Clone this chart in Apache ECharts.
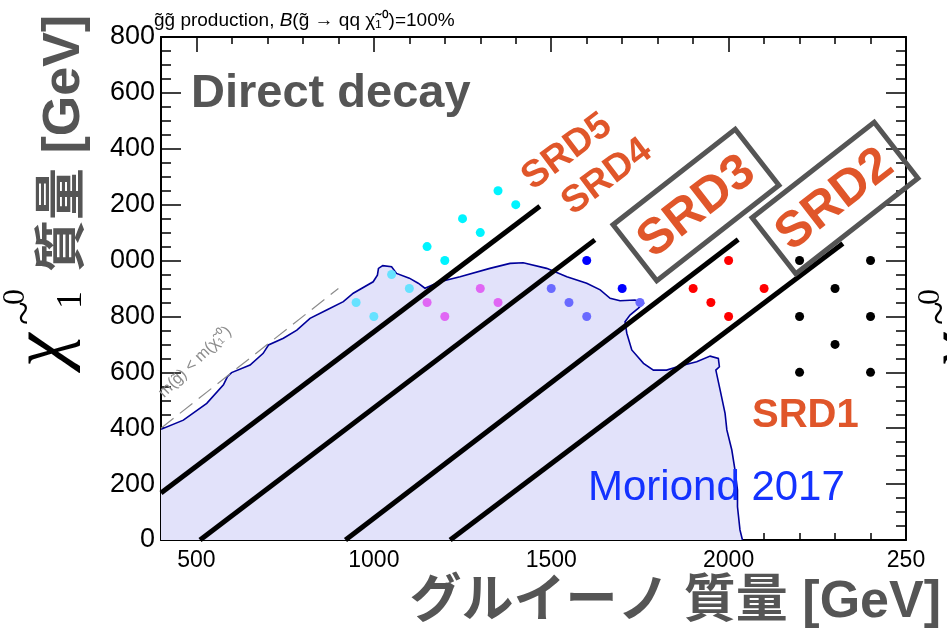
<!DOCTYPE html>
<html><head><meta charset="utf-8">
<script src="https://cdn.jsdelivr.net/npm/echarts@6/dist/echarts.min.js"></script>
<style>html,body{margin:0;padding:0;background:#fff}#c{width:947px;height:636px}</style>
</head><body><div id="c"></div>
<script>
// ---- data ----
const xLabelValues = [500, 1000, 1500, 2000, 2500];
const yTickStep = 200;
// signal points (gluino mass, neutralino mass)
const srd5Points = [[1150,1050],[1200,1000],[1250,1150],[1300,1100],[1350,1250],[1400,1200]];
const srd4Points = [[950,850],[1000,800],[1050,950],[1100,900]];
const magentaPoints = [[1150,850],[1200,800],[1300,900],[1350,850]];
const slatePoints = [[1500,900],[1550,850],[1600,800],[1750,850]];
const bluePoints = [[1600,1000],[1700,900]];
const srd2Points = [[1900,900],[1950,850],[2000,1000],[2000,800],[2100,900]];
const srd1Points = [[2200,1000],[2400,1000],[2300,900],[2200,800],[2400,800],[2300,700],[2200,600],[2400,600]];
// region boundary lines
const boundary1 = [[400,168],[1468,1194]];
const boundary2 = [[510,0],[1623,1074]];
const boundary3 = [[920,0],[2027,1075]];
const boundary4 = [[1215,0],[2322,1061]];
// kinematic limit m(gluino) = m(neutralino)
const kinLimit = [[400,400],[900,900]];
// Moriond 2017 exclusion contour
const contourX = [400,463,529,576,587,599,651,688,703,745,783,820,867,914,942,998,1010,1013,1025,1050,1064,1100,1125,1144,1186,1243,1327,1384,1421,1487,1544,1600,1638,1666,1694,1736,1760,1745,1722,1708,1713,1727,1760,1788,1825,1863,1910,1948,1971,1974,1964,1976,1990,1995,2009,2018,2025,2025,2032,2039];
const contourY = [396,429,489,555,584,599,626,668,698,722,751,793,823,853,883,924,948,972,982,978,954,937,919,901,924,942,972,990,992,972,942,919,895,865,856,859,847,829,805,781,740,680,632,608,608,623,638,658,650,620,608,537,453,394,322,250,179,119,36,0];

const SANS = '"Liberation Sans", Arial, Helvetica, "Noto Sans CJK JP", sans-serif';
const NARROW = '"Liberation Sans Narrow", "Arial Narrow", "Liberation Sans", sans-serif';
const SERIF = '"Liberation Serif", "Times New Roman", "DejaVu Serif", serif';
const ORANGE = '#e0562a';
const GREY = '#555555';
const deg = Math.PI / 180;

const chart = echarts.init(document.getElementById('c'), null, {renderer: 'canvas'});

function lineSeries(data) {
  return {type:'line', data:data, symbol:'none', z:3, silent:true,
    lineStyle:{color:'#000', width:5}};
}
function dotSeries(data, color) {
  return {type:'scatter', data:data, symbol:'circle', symbolSize:9, z:4,
    itemStyle:{color:color, opacity:1}};
}
function xAxisBase(pos, showLabel, major) {
  return {
    type:'value', min:400, max:2500, interval:100, position:pos,
    axisLine:{show:!major, onZero:false, lineStyle:{color:'#000', width:2}},
    axisTick:major ? {show:true, inside:true, length:15, customValues:xLabelValues, lineStyle:{color:'#000', width:1.5}}
                   : {show:true, inside:true, length:7, lineStyle:{color:'#000', width:1.5}},
    axisLabel:{show:showLabel, margin:9, color:'#000', fontSize:23, fontFamily:NARROW,
      formatter:function(v){ if (xLabelValues.indexOf(v) < 0) return ''; return v === 2500 ? '250' : String(v); }},
    splitLine:{show:false}
  };
}
function yAxisBase(pos, showLabel) {
  return {
    type:'value', min:0, max:1800, interval:yTickStep, position:pos,
    axisLine:{show:true, onZero:false, lineStyle:{color:'#000', width:2}},
    axisTick:{show:true, inside:true, length:20, lineStyle:{color:'#000', width:1.5}},
    minorTick:{show:true, splitNumber:4, length:10, lineStyle:{color:'#000', width:1.5}},
    axisLabel:{show:showLabel, margin:6, color:'#000', fontSize:27, fontFamily:SANS,
      formatter:function(v){ return v >= 1000 ? String(v).slice(1) : String(v); }},
    splitLine:{show:false}, minorSplitLine:{show:false}
  };
}

function txt(text, x, y, font, fill, align, extra) {
  const el = {type:'text', x:x, y:y, z:100, silent:true,
    style:{text:text, font:font, fill:fill, align:align, textAlign:align,
      verticalAlign:'middle', textVerticalAlign:'middle'}};
  if (extra) Object.keys(extra).forEach(function(k){ el[k] = extra[k]; });
  return el;
}

function chiGroup(x0, y0) {
  // local frame: +x goes up the page, +y goes to the right
  return {type:'group', x:x0, y:y0, rotation:90*deg, silent:true, z:100, children:[
    txt('χ', 0, -44, 'italic 76px ' + SERIF, '#000', 'left'),
    txt('~', 54, -62, '44px ' + SERIF, '#000', 'center'),
    txt('0', 70, -72, '32px ' + SERIF, '#000', 'center'),
    txt('1', 67, -16, '36px ' + SERIF, '#000', 'center')
  ]};
}

function rotText(text, x, y, size, angle, color) {
  return txt(text, x, y, 'bold ' + size + 'px ' + SANS, color, 'center', {rotation:angle*deg});
}
function rotBox(cx, cy, w, h, angle) {
  return {type:'rect', x:cx, y:cy, rotation:angle*deg, silent:true, z:100,
    shape:{x:-w/2, y:-h/2, width:w, height:h},
    style:{fill:'none', stroke:GREY, lineWidth:5}};
}

const option = {
  animation:false,
  backgroundColor:'#fff',
  grid:{left:161, right:41, top:37, bottom:96, containLabel:false},
  xAxis:[xAxisBase('bottom', true, false), xAxisBase('bottom', false, true),
         xAxisBase('top', false, false), xAxisBase('top', false, true)],
  yAxis:[yAxisBase('left', true), yAxisBase('right', false)],
  series:[
    {type:'custom', z:1, silent:true, clip:true,
      data:contourX.map(function(x,i){return [x, contourY[i]];}),
      renderItem:function(params, api){
        if (params.dataIndex !== 0) return null;
        const pts = contourX.map(function(x,i){ return api.coord([x, contourY[i]]); });
        const fillPts = pts.concat([api.coord([contourX[contourX.length-1], 0]), api.coord([contourX[0], 0])]);
        return {type:'group', children:[
          {type:'polygon', shape:{points:fillPts}, style:{fill:'#e2e2fa', stroke:null}},
          {type:'polyline', shape:{points:pts}, style:{stroke:'#00009a', lineWidth:1.6, fill:null}}
        ]};
      }},
    {type:'line', data:kinLimit, symbol:'none', z:2, silent:true,
      lineStyle:{color:'#8c8c8c', width:1.2, type:[16,8]}},
    lineSeries(boundary1), lineSeries(boundary2), lineSeries(boundary3), lineSeries(boundary4),
    dotSeries(srd5Points, '#00f4ff'),
    dotSeries(srd4Points, '#66e2ff'),
    dotSeries(magentaPoints, '#e066f4'),
    dotSeries(slatePoints, '#6a6aff'),
    dotSeries(bluePoints, '#0000ff'),
    dotSeries(srd2Points, '#ff0000'),
    dotSeries(srd1Points, '#000000')
  ],
  graphic:{elements:[
    // header
    {type:'text', x:154, y:21, z:100, silent:true, style:{
      text:'g̃g̃ production, {i|B}(g̃ → qq χ̃₁⁰)=100%',
      font:'19px ' + SANS, fill:'#000', align:'left', textAlign:'left', verticalAlign:'middle', textVerticalAlign:'middle',
      rich:{i:{fontStyle:'italic', fontSize:19, fontFamily:SANS}}}},
    txt('Direct decay', 191, 94, 'bold 47px ' + SANS, GREY, 'left'),
    txt('m(g̃) < m(χ̃₁⁰)', 195, 362, '16px ' + SANS, '#8c8c8c', 'center', {rotation:44*deg}),
    rotText('SRD5', 567, 152, 38, 37, ORANGE),
    rotText('SRD4', 607, 177, 38, 37, ORANGE),
    rotBox(696, 205, 155, 71, 38),
    rotText('SRD3', 697, 207, 50, 38, ORANGE),
    rotBox(835, 198, 155, 71, 38),
    rotText('SRD2', 835, 200, 50, 38, ORANGE),
    txt('SRD1', 752, 416, 'bold 40px ' + SANS, ORANGE, 'left'),
    txt('Moriond 2017', 588, 488, '42px ' + SANS, '#1432ff', 'left'),
    // x-axis title
    txt('グルイーノ 質量 [GeV]', 941, 603, 'bold 52px ' + SANS, GREY, 'right'),
    // y-axis title
    chiGroup(88, 367),
    txt('質量 [GeV]', 65, 272, 'bold 52px ' + SANS, GREY, 'left', {rotation:90*deg}),
    // neighbouring panel's title, clipped at the right edge
    chiGroup(1003, 367)
  ]}
};
chart.setOption(option);
</script>
</body></html>
